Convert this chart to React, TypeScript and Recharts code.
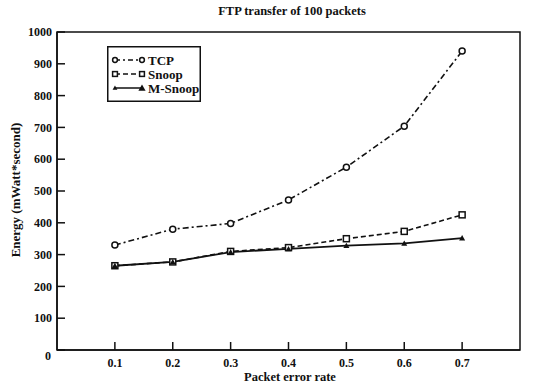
import React from "react";
import { LineChart, Line, XAxis, YAxis, ReferenceArea, Legend } from "recharts";

const errorRates = [0.1, 0.2, 0.3, 0.4, 0.5, 0.6, 0.7];
const tcpEnergy = [330, 380, 398, 472, 575, 704, 940];
const snoopEnergy = [265, 277, 310, 322, 350, 373, 425];
const mSnoopEnergy = [265, 277, 308, 318, 328, 335, 352];

const xTicks = [0.1, 0.2, 0.3, 0.4, 0.5, 0.6, 0.7];
const yTicks = [0, 100, 200, 300, 400, 500, 600, 700, 800, 900, 1000];

const data = errorRates.map((rate, i) => ({
  rate,
  tcp: tcpEnergy[i],
  snoop: snoopEnergy[i],
  msnoop: mSnoopEnergy[i],
}));

const FONT = "'Liberation Serif', 'DejaVu Serif', serif";
const INK = "#111";

const CircleDot = (props: any) => {
  const { cx, cy, r = 3.2 } = props;
  if (cx == null || cy == null) return null;
  return <circle cx={cx} cy={cy} r={r} fill="#fff" stroke={INK} strokeWidth={1.5} />;
};

const SquareDot = (props: any) => {
  const { cx, cy, r = 3 } = props;
  if (cx == null || cy == null) return null;
  return <rect x={cx - r} y={cy - r} width={2 * r} height={2 * r} fill="#fff" stroke={INK} strokeWidth={1.5} />;
};

const TriangleDot = (props: any) => {
  const { cx, cy, r = 4.5 } = props;
  if (cx == null || cy == null) return null;
  return <polygon points={`${cx},${cy - r} ${cx - r},${cy + r * 0.78} ${cx + r},${cy + r * 0.78}`} fill={INK} />;
};

const legendRows = [
  { name: "TCP", dash: "5 3 2 3", marker: CircleDot },
  { name: "Snoop", dash: "5 3", marker: SquareDot },
  { name: "M-Snoop", dash: undefined, marker: TriangleDot },
];

function LegendBox() {
  return (
    <svg width={94} height={56} style={{ display: "block" }}>
      <rect x={0.75} y={0.75} width={92.5} height={54.5} fill="#fff" stroke={INK} strokeWidth={1.5} />
      {legendRows.map((row, i) => {
        const y = 14 + i * 14;
        const M = row.marker;
        return (
          <g key={row.name}>
            <line x1={8} x2={35} y1={y} y2={y} stroke={INK} strokeWidth={1.5} strokeDasharray={row.dash} />
            <M cx={8} cy={y} r={2.4} />
            <M cx={35} cy={y} r={row.name === "M-Snoop" ? 3.6 : 2.4} />
            <text x={41} y={y + 4.5} fontFamily={FONT} fontWeight="bold" fontSize={13} fill={INK}>
              {row.name}
            </text>
          </g>
        );
      })}
    </svg>
  );
}

const YTick = (props: any) => {
  const { x, y, payload } = props;
  const isZero = payload.value === 0;
  return (
    <text
      x={isZero ? x - 1 : x}
      y={isZero ? y + 6 : y}
      dy="0.35em"
      textAnchor="end"
      fontFamily={FONT}
      fontWeight="bold"
      fontSize={12}
      fill={INK}
    >
      {payload.value}
    </text>
  );
};

export default function App() {
  const tickStyle = { fontSize: 12, fill: INK, fontFamily: FONT, fontWeight: "bold" as const };
  const labelStyle = {
    fontFamily: FONT,
    fontWeight: "bold" as const,
    fontSize: 12.5,
    color: INK,
  };
  return (
    <div style={{ position: "absolute", left: 0, top: 0, width: 555, height: 385, background: "#fff" }}>
      <div style={{ ...labelStyle, position: "absolute", top: 4, left: 0, width: 584, textAlign: "center" }}>
        FTP transfer of 100 packets
      </div>
      <div style={{ ...labelStyle, position: "absolute", left: 0, top: 370, width: 580, textAlign: "center" }}>
        Packet error rate
      </div>
      <div
        style={{
          ...labelStyle,
          fontSize: 13,
          position: "absolute",
          left: 16,
          top: 190,
          transform: "translate(-50%, -50%) rotate(-90deg)",
          whiteSpace: "nowrap",
        }}
      >
        Energy (mWatt*second)
      </div>
      <LineChart
        width={555}
        height={385}
        data={data}
        margin={{ top: 32, right: 35, left: 0, bottom: 0 }}
      >
        <XAxis
          dataKey="rate"
          type="number"
          domain={[0, 0.8]}
          ticks={xTicks}
          tickSize={-8}
          tickMargin={16}
          height={35}
          stroke={INK}
          strokeWidth={1.5}
          tick={tickStyle}
        />
        <YAxis
          type="number"
          domain={[0, 1000]}
          ticks={yTicks}
          tickSize={-8}
          tickMargin={13}
          width={57}
          stroke={INK}
          strokeWidth={1.5}
          tick={<YTick />}
          interval={0}
        />
        <ReferenceArea x1={0} x2={0.8} y1={0} y2={1000} fill="none" stroke={INK} strokeWidth={1.5} />
        <Legend
          layout="horizontal"
          verticalAlign="middle"
          align="center"
          wrapperStyle={{ position: "absolute", left: 107, top: 46, width: 94, height: 56 }}
          content={() => <LegendBox />}
        />
        <Line
          dataKey="tcp"
          name="TCP"
          stroke={INK}
          strokeWidth={1.6}
          strokeDasharray="6 3 2 3"
          dot={<CircleDot />}
          isAnimationActive={false}
        />
        <Line
          dataKey="snoop"
          name="Snoop"
          stroke={INK}
          strokeWidth={1.6}
          strokeDasharray="5 3"
          dot={<SquareDot />}
          isAnimationActive={false}
        />
        <Line
          dataKey="msnoop"
          name="M-Snoop"
          stroke={INK}
          strokeWidth={1.8}
          dot={<TriangleDot />}
          isAnimationActive={false}
        />
      </LineChart>
    </div>
  );
}
